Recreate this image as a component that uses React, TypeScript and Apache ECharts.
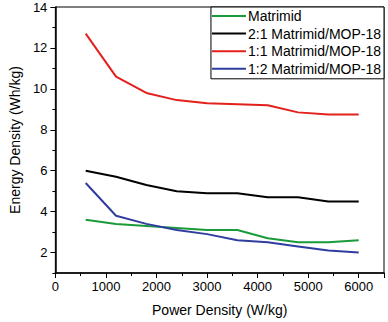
import React, { useEffect, useRef } from "react";
import * as echarts from "echarts";

const powerDensity = [600, 1200, 1800, 2400, 3000, 3600, 4200, 4800, 5400, 6000];
const matrimid = [3.6, 3.4, 3.3, 3.2, 3.1, 3.1, 2.7, 2.5, 2.5, 2.6];
const m21 = [6.0, 5.7, 5.3, 5.0, 4.9, 4.9, 4.7, 4.7, 4.5, 4.5];
const m11 = [12.7, 10.6, 9.8, 9.45, 9.3, 9.25, 9.2, 8.85, 8.75, 8.75];
const m12 = [5.4, 3.8, 3.4, 3.1, 2.9, 2.6, 2.5, 2.3, 2.1, 2.0];
const seriesNames = ["Matrimid", "2:1 Matrimid/MOP-18", "1:1 Matrimid/MOP-18", "1:2 Matrimid/MOP-18"];
const seriesColors = ["#1a9a3a", "#000000", "#e3201c", "#2f3e9e"];
const yMajorTicks = [2, 4, 6, 8, 10, 12, 14];
const yMinorTicks = [1, 3, 5, 7, 9, 11, 13];

export default function App() {
  const ref = useRef<HTMLDivElement>(null);
  useEffect(() => {
    const chart = echarts.init(ref.current!, null, { renderer: "svg" });
    const allData = [matrimid, m21, m11, m12];
    const font = "'Liberation Sans', Arial, sans-serif";
    chart.setOption({
      animation: false,
      textStyle: { fontFamily: font },
      grid: {
        left: 50,
        right: 4,
        top: 7,
        bottom: 45,
        show: true,
        borderColor: "#000",
        borderWidth: 1,
      },
      legend: {
        right: 4,
        top: 7,
        orient: "vertical",
        itemWidth: 34,
        itemHeight: 2,
        itemGap: 3.6,
        padding: [2, 3, 3, 1],
        backgroundColor: "#fff",
        borderColor: "#000",
        borderWidth: 1,
        borderRadius: 0,
        icon: "rect",
        textStyle: { fontSize: 14, color: "#000", fontFamily: font, padding: [0, 0, 0, -3] },
        data: seriesNames,
      },
      xAxis: {
        type: "value",
        min: 0,
        max: 6500,
        interval: 1000,
        name: "Power Density (W/kg)",
        nameLocation: "middle",
        nameGap: 30,
        nameTextStyle: { fontSize: 14, color: "#000", fontFamily: font },
        axisLine: { lineStyle: { color: "#000", width: 1.5 } },
        axisTick: { show: true, length: 5, lineStyle: { color: "#000" } },
        minorTick: { show: true, splitNumber: 2, length: 3, lineStyle: { color: "#000" } },
        axisLabel: {
          fontSize: 13,
          color: "#000",
          fontFamily: font,
          margin: 7,
          formatter: (v: number) => String(v),
        },
        splitLine: { show: false },
      },
      yAxis: [
        {
          type: "value",
          min: 1,
          max: 14,
          name: "Energy Density (Wh/kg)",
          nameLocation: "middle",
          nameGap: 33,
          nameTextStyle: { fontSize: 14, color: "#000", fontFamily: font },
          axisLine: { show: true, lineStyle: { color: "#000", width: 1.5 } },
          axisTick: { show: true, length: 5, customValues: yMajorTicks, lineStyle: { color: "#000" } },
          axisLabel: {
            fontSize: 13,
            color: "#000",
            fontFamily: font,
            margin: 8,
            customValues: yMajorTicks,
            formatter: (v: number) => String(v),
          },
          splitLine: { show: false },
        },
        {
          type: "value",
          min: 1,
          max: 14,
          position: "left",
          axisLine: { show: false },
          axisTick: { show: true, length: 3, customValues: yMinorTicks, lineStyle: { color: "#000" } },
          axisLabel: { show: false },
          splitLine: { show: false },
        },
      ],
      series: seriesNames.map((name, i) => ({
        name,
        type: "line",
        yAxisIndex: 0,
        showSymbol: false,
        symbol: "none",
        data: powerDensity.map((x, j) => [x, allData[i][j]]),
        lineStyle: { color: seriesColors[i], width: 2 },
        itemStyle: { color: seriesColors[i] },
        z: 2,
      })),
    });
    return () => chart.dispose();
  }, []);
  return <div ref={ref} style={{ width: 388, height: 322, position: "absolute", left: 0, top: 0 }} />;
}
